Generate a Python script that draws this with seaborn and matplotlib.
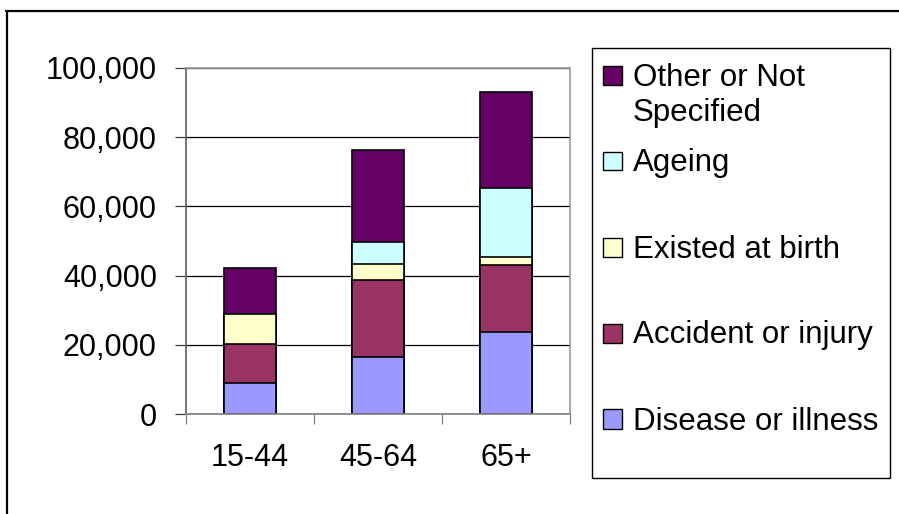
import numpy as np
import pandas as pd
import seaborn as sns
import matplotlib.pyplot as plt
from matplotlib.patches import Rectangle
from matplotlib.lines import Line2D
from matplotlib.ticker import FuncFormatter, FixedLocator

# data
age_groups = ["15-44", "45-64", "65+"]
series = ["Disease or illness", "Accident or injury", "Existed at birth", "Ageing", "Other or Not Specified"]
disease = [9100, 16600, 23600]
accident = [11000, 22000, 19600]
existed = [8700, 4800, 2300]
ageing = [0, 6300, 19700]
other = [13400, 26700, 27900]
legend_labels = ["Disease or illness", "Accident or injury", "Existed at birth", "Ageing", "Other or Not\nSpecified"]
colors = ["#9999FF", "#993366", "#FFFFCC", "#CCFFFF", "#660066"]

df = pd.DataFrame({"age": age_groups,
                   series[0]: disease, series[1]: accident, series[2]: existed,
                   series[3]: ageing, series[4]: other})
cum = df[series].cumsum(axis=1)
cum["age"] = df["age"]

sns.set_style("white")
plt.rcParams["font.family"] = ["Liberation Sans", "DejaVu Sans"]
plt.rcParams["text.color"] = "black"

W, H = 899, 514
fx = lambda x: x / W
fy = lambda y: 1 - y / H

fig = plt.figure(figsize=(W / 100, H / 100), dpi=100)
ax = fig.add_axes([fx(186), fy(414), fx(570) - fx(186), fy(68) - fy(414)])

# stacked bars: draw cumulative totals from the top series down
for s, c in zip(series[::-1], colors[::-1]):
    sns.barplot(data=cum, x="age", y=s, order=age_groups, color=c, saturation=1,
                width=0.41, edgecolor="black", linewidth=1.2, ax=ax)

ax.set_xlabel("")
ax.set_ylabel("")
ax.set_xlim(-0.5, 2.5)
ax.set_ylim(0, 100000)
ax.set_yticks(np.arange(0, 100001, 20000))
ax.yaxis.set_major_formatter(FuncFormatter(lambda v, p: f"{v:,.0f}"))
ax.set_axisbelow(True)
ax.yaxis.grid(True, color="black", linewidth=0.9)
ax.xaxis.grid(False)

ax.tick_params(axis="y", which="major", direction="out", length=8, width=0.9,
               color="#404040", labelsize=22, labelcolor="black", pad=13, left=True)
ax.tick_params(axis="x", which="major", length=0, labelsize=22, labelcolor="black", pad=21)
ax.xaxis.set_minor_locator(FixedLocator([-0.5, 0.5, 1.5, 2.5]))
ax.tick_params(axis="x", which="minor", direction="out", length=7.5, width=0.9,
               color="#808080", bottom=True)

for side in ["top", "right"]:
    ax.spines[side].set_visible(True)
    ax.spines[side].set_color("#9a9a9a")
    ax.spines[side].set_linewidth(1.2)
ax.spines["left"].set_color("#606060")
ax.spines["bottom"].set_color("#808080")
ax.spines["left"].set_linewidth(1.2)
ax.spines["bottom"].set_linewidth(1.2)

# legend box drawn by hand so the entries match the original spacing
fig.patches.append(Rectangle((fx(592), fy(478)), fx(890) - fx(592), fy(48) - fy(478),
                             transform=fig.transFigure, facecolor="white",
                             edgecolor="black", linewidth=1.0))
for i, (lab, c) in enumerate(zip(legend_labels[::-1], colors[::-1])):
    yc = 75 + 86 * i
    fig.patches.append(Rectangle((fx(603), fy(yc + 9.5)), fx(622) - fx(603), fy(yc - 9.5) - fy(yc + 9.5),
                                 transform=fig.transFigure, facecolor=c,
                                 edgecolor="black", linewidth=1.0))
    for j, line in enumerate(lab.split("\n")):
        fig.text(fx(633), fy(yc + 10.5 + 35 * j), line, fontsize=22.5,
                 va="baseline", ha="left", color="black")

# outer frame (top and left edges visible)
fig.lines.append(Line2D([fx(6), 1], [fy(11), fy(11)], transform=fig.transFigure,
                        color="black", linewidth=1.6))
fig.lines.append(Line2D([fx(7), fx(7)], [fy(11), 0], transform=fig.transFigure,
                        color="black", linewidth=1.6))

fig.savefig("out.png", dpi=100)
